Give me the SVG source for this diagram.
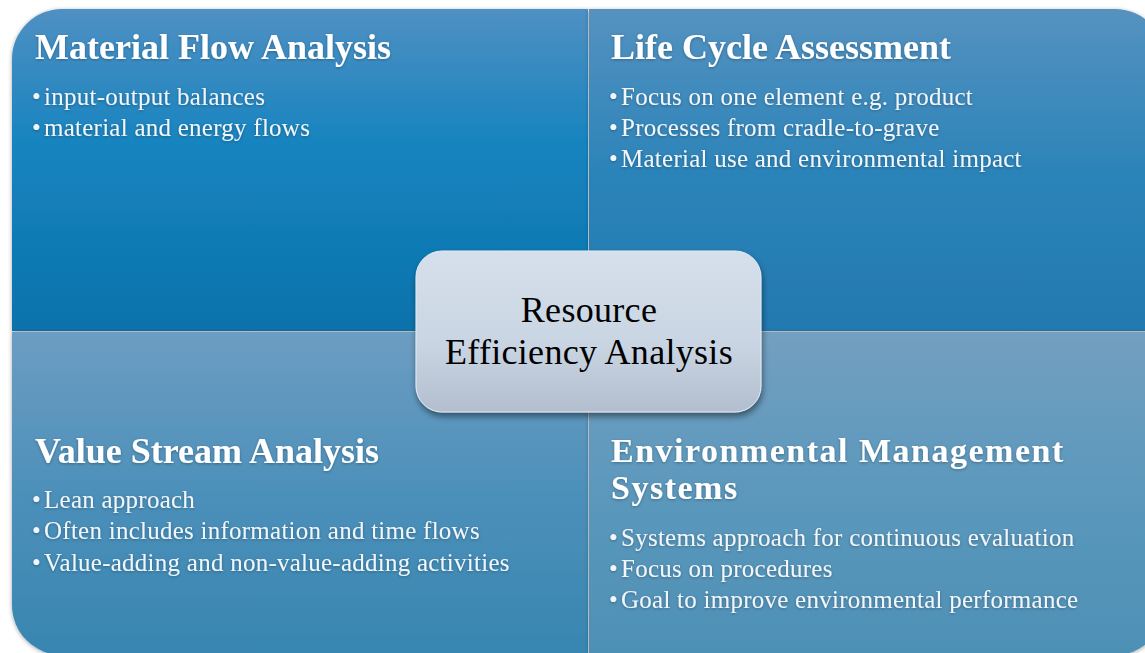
<svg xmlns="http://www.w3.org/2000/svg" width="1145" height="653" viewBox="0 0 1145 653">
<defs>
<linearGradient id="gTL" x1="0" y1="0" x2="0" y2="1">
<stop offset="0" stop-color="#4f90c3"/>
<stop offset="0.45" stop-color="#1383bf"/>
<stop offset="1" stop-color="#0f72ab"/>
</linearGradient>
<linearGradient id="gTR" x1="0" y1="0" x2="0" y2="1">
<stop offset="0" stop-color="#5592c0"/>
<stop offset="0.5" stop-color="#2c84b9"/>
<stop offset="1" stop-color="#2279b0"/>
</linearGradient>
<linearGradient id="gBL" x1="0" y1="0" x2="0" y2="1">
<stop offset="0" stop-color="#6d9dc2"/>
<stop offset="0.5" stop-color="#4c90ba"/>
<stop offset="1" stop-color="#3786b1"/>
</linearGradient>
<linearGradient id="gBR" x1="0" y1="0" x2="0" y2="1">
<stop offset="0" stop-color="#739fc0"/>
<stop offset="0.5" stop-color="#5b98bc"/>
<stop offset="1" stop-color="#4e90b6"/>
</linearGradient>
<linearGradient id="gC" x1="0" y1="0" x2="0" y2="1">
<stop offset="0" stop-color="#d6e0ec"/>
<stop offset="0.6" stop-color="#c9d4e2"/>
<stop offset="1" stop-color="#b2bece"/>
</linearGradient>
<filter id="qs" x="-5%" y="-5%" width="110%" height="110%">
<feDropShadow dx="0" dy="1" stdDeviation="2" flood-color="#000" flood-opacity="0.35"/>
</filter>
<filter id="cs" x="-10%" y="-10%" width="120%" height="130%">
<feDropShadow dx="1" dy="4" stdDeviation="3" flood-color="#000" flood-opacity="0.45"/>
</filter>
<filter id="ts" x="-5%" y="-20%" width="110%" height="140%">
<feDropShadow dx="0" dy="1" stdDeviation="1.5" flood-color="#000" flood-opacity="0.3"/>
</filter>
<style>
.title{font-family:"Liberation Serif","Times New Roman",serif;font-size:36px;font-weight:bold;fill:#ffffff;}
.title2{font-family:"Liberation Serif","Times New Roman",serif;font-size:34px;font-weight:bold;fill:#ffffff;letter-spacing:1.5px;}
.item{font-family:"Liberation Serif","Times New Roman",serif;font-size:25px;fill:#f2f6fa;letter-spacing:0.25px;}
.center{font-family:"Liberation Serif","Times New Roman",serif;font-size:36px;fill:#000000;text-anchor:middle;letter-spacing:0.3px;}
</style>
</defs>
<rect width="1145" height="653" fill="#ffffff"/>
<g id="quad-tl" filter="url(#qs)">
<path d="M12,59 A50,50 0 0 1 62,9 L588,9 L588,331 L12,331 Z" fill="url(#gTL)"/>
</g>
<g id="quad-tr" filter="url(#qs)">
<path d="M589,9 L1115,9 A50,50 0 0 1 1165,59 L1165,331 L589,331 Z" fill="url(#gTR)"/>
</g>
<g id="quad-bl" filter="url(#qs)">
<path d="M12,332 L588,332 L588,655 L62,655 A50,50 0 0 1 12,605 Z" fill="url(#gBL)"/>
</g>
<g id="quad-br" filter="url(#qs)">
<path d="M589,332 L1165,332 L1165,605 A50,50 0 0 1 1115,655 L589,655 Z" fill="url(#gBR)"/>
</g>
<g id="text-tl" filter="url(#ts)">
<text class="title" x="35" y="59">Material Flow Analysis</text>
<text class="item" x="32" y="105">•<tspan dx="3">input-output balances</tspan></text>
<text class="item" x="32" y="136">•<tspan dx="3">material and energy flows</tspan></text>
</g>
<g id="text-tr" filter="url(#ts)">
<text class="title" x="611" y="59">Life Cycle Assessment</text>
<text class="item" x="609" y="105">•<tspan dx="3">Focus on one element e.g. product</tspan></text>
<text class="item" x="609" y="136">•<tspan dx="3">Processes from cradle-to-grave</tspan></text>
<text class="item" x="609" y="167">•<tspan dx="3">Material use and environmental impact</tspan></text>
</g>
<g id="text-bl" filter="url(#ts)">
<text class="title" x="35" y="463">Value Stream Analysis</text>
<text class="item" x="32" y="508">•<tspan dx="3">Lean approach</tspan></text>
<text class="item" x="32" y="539">•<tspan dx="3">Often includes information and time flows</tspan></text>
<text class="item" x="32" y="571">•<tspan dx="3">Value-adding and non-value-adding activities</tspan></text>
</g>
<g id="text-br" filter="url(#ts)">
<text class="title2" x="611" y="462">Environmental Management</text>
<text class="title2" x="611" y="499">Systems</text>
<text class="item" x="609" y="546">•<tspan dx="3">Systems approach for continuous evaluation</tspan></text>
<text class="item" x="609" y="577">•<tspan dx="3">Focus on procedures</tspan></text>
<text class="item" x="609" y="608">•<tspan dx="3">Goal to improve environmental performance</tspan></text>
</g>
<g id="connectors"></g>
<g id="center-node">
<rect x="416" y="251" width="345" height="161" rx="26" ry="26" fill="url(#gC)" stroke="#e4ebf3" stroke-width="1" filter="url(#cs)"/>
<text class="center" x="589" y="322">Resource</text>
<text class="center" x="589" y="364">Efficiency Analysis</text>
</g>
</svg>
